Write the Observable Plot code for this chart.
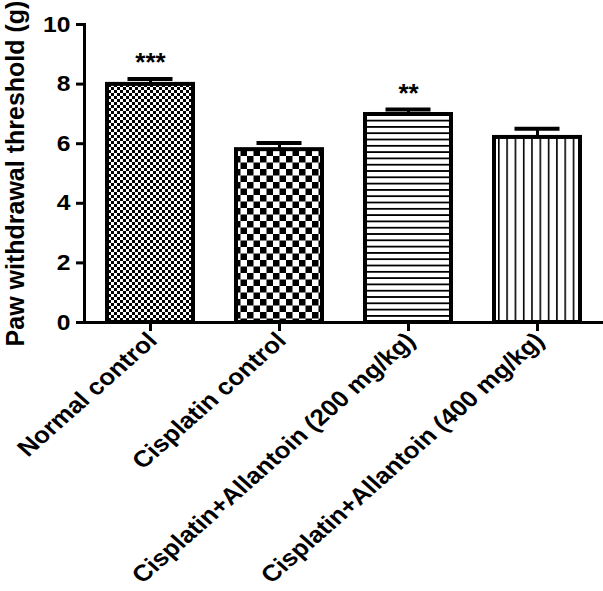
<!DOCTYPE html>
<html>
<head>
<meta charset="utf-8">
<script src="https://cdn.jsdelivr.net/npm/d3@7"></script>
<script src="https://cdn.jsdelivr.net/npm/@observablehq/plot@0.6"></script>
<style>
  html, body { margin: 0; padding: 0; background: #fff; }
  #chart svg { display: block; }
</style>
</head>
<body>
<div id="chart"></div>
<script>
const groups = [
  "Normal control",
  "Cisplatin control",
  "Cisplatin+Allantoin (200 mg/kg)",
  "Cisplatin+Allantoin (400 mg/kg)"
];
const means = [7.99, 5.80, 6.98, 6.21];
const sems = [0.18, 0.22, 0.17, 0.29];
const significance = ["***", "", "**", ""];
const yTicks = [0, 2, 4, 6, 8, 10];

const patternIds = ["fineCheck", "coarseCheck", "hLines", "vLines"];

const data = groups.map((g, i) => ({
  group: g,
  mean: means[i],
  sem: sems[i],
  sig: significance[i],
  fill: `url(#${patternIds[i]})`
}));

const font = "'Liberation Sans', Arial, Helvetica, sans-serif";

const chart = Plot.plot({
  width: 603,
  height: 591,
  marginLeft: 84,
  marginRight: 0,
  marginTop: 24,
  marginBottom: 269,
  style: { fontFamily: font, background: "#fff", color: "#000" },
  x: { domain: groups, paddingInner: 0.335, paddingOuter: 0.178, label: null },
  y: { domain: [0, 10], label: null },
  color: { type: "identity" },
  marks: [
    Plot.barY(data, { x: "group", y: "mean", fill: "fill", stroke: "#000", strokeWidth: 4 }),
    Plot.ruleX(data, { x: "group", y1: "mean", y2: d => d.mean + d.sem, stroke: "#000", strokeWidth: 3 }),
    Plot.tickY(data, { x: "group", y: d => d.mean + d.sem, stroke: "#000", strokeWidth: 4, insetLeft: 20.5, insetRight: 20.5 }),
    Plot.text(data, { x: "group", y: d => d.mean + d.sem, text: "sig", dy: -16, fontSize: 26, fontWeight: "bold", fill: "#000" }),
    Plot.ruleY([0], { stroke: "#000", strokeWidth: 3 }),
    Plot.frame({ anchor: "left", stroke: "#000", strokeWidth: 3 }),
    Plot.axisY({
      ticks: yTicks, tickSize: 8, tickPadding: 6, strokeWidth: 3,
      fontSize: 22, fontWeight: "bold", label: null, className: "yticks"
    }),
    Plot.axisX({ tickSize: 9, strokeWidth: 3, tickFormat: () => "", label: null }),
    Plot.text(groups, {
      x: d => d, frameAnchor: "bottom", text: d => d,
      rotate: -45, textAnchor: "end", lineAnchor: "top",
      dx: -5, dy: 8, fontSize: 23, fontWeight: "bold", fill: "#000",
      className: "xlabels"
    }),
    Plot.text(["Paw withdrawal threshold (g)"], {
      frameAnchor: "left", text: d => d, rotate: -90, textAnchor: "middle",
      dx: -69, fontSize: 25, fontWeight: "bold", fill: "#000"
    })
  ]
});

// pattern definitions
const svgNS = "http://www.w3.org/2000/svg";
const defs = document.createElementNS(svgNS, "defs");
defs.innerHTML = `
  <pattern id="fineCheck" patternUnits="userSpaceOnUse" width="6" height="6">
    <rect width="6" height="6" fill="#fff"/>
    <rect x="0" y="0" width="3" height="3" fill="#000"/>
    <rect x="3" y="3" width="3" height="3" fill="#000"/>
  </pattern>
  <pattern id="coarseCheck" patternUnits="userSpaceOnUse" width="13" height="13">
    <rect width="13" height="13" fill="#fff"/>
    <rect x="0" y="0" width="6.5" height="6.5" fill="#000"/>
    <rect x="6.5" y="6.5" width="6.5" height="6.5" fill="#000"/>
  </pattern>
  <pattern id="hLines" patternUnits="userSpaceOnUse" width="10" height="6.3">
    <rect width="10" height="6.3" fill="#fff"/>
    <rect x="0" y="0" width="10" height="1.8" fill="#000"/>
  </pattern>
  <pattern id="vLines" patternUnits="userSpaceOnUse" width="8.3" height="10">
    <rect width="8.3" height="10" fill="#fff"/>
    <rect x="0" y="0" width="1.6" height="10" fill="#000"/>
  </pattern>`;
chart.insertBefore(defs, chart.firstChild);

// the reference's lettering is slightly wider than it is tall
chart.querySelectorAll(".xlabels text").forEach(t => {
  const tr = t.getAttribute("transform") || "";
  t.setAttribute("transform", tr.replace(/rotate\(([-\d.]+)\)/, "scale(1.13,1) rotate($1)"));
});
chart.querySelectorAll(".yticks text").forEach(t => {
  const tr = t.getAttribute("transform");
  if (tr && !t.hasAttribute("x")) t.setAttribute("transform", tr + " scale(1.12,1)");
});

document.getElementById("chart").appendChild(chart);
</script>
</body>
</html>
